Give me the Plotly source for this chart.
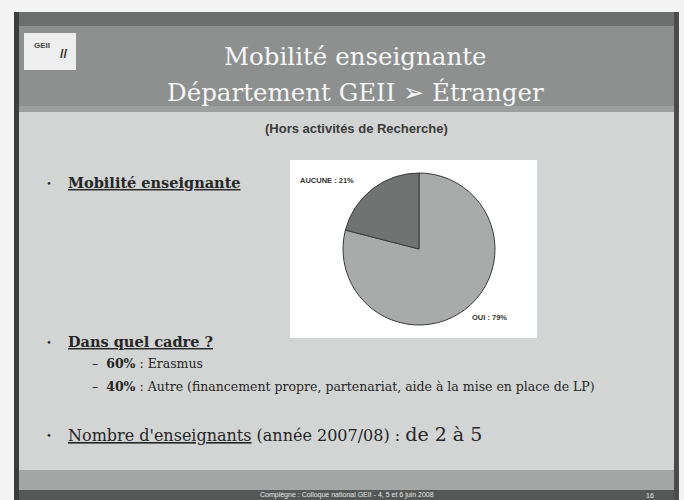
import plotly.graph_objects as go

# ---- data ----
pie_labels = ["OUI", "AUCUNE"]
pie_values = [79, 21]
pie_colors = ["#a9abaa", "#6f7472"]

title_lines = ["Mobilité enseignante", "Département GEII ➢ Étranger"]
subtitle = "(Hors activités de Recherche)"
bullet1 = "Mobilité enseignante"
bullet2 = "Dans quel cadre ?"
sub_items = [("60%", "Erasmus"),
             ("40%", "Autre (financement propre, partenariat, aide à la mise en place de LP)")]
bullet3_u = "Nombre d'enseignants"
bullet3_rest = " (année 2007/08) : "
bullet3_big = "de 2 à 5"
footer = "Compiègne : Colloque national GEII - 4, 5 et 6 juin 2008"
page_no = "16"

W, H = 684, 500


def px(x):
    return x / W


def py(y):
    return 1 - y / H


def rect(x0, y0, x1, y1, color, line=None):
    return dict(type="rect", xref="paper", yref="paper",
                x0=px(x0), x1=px(x1), y0=py(y1), y1=py(y0),
                fillcolor=color, line=dict(width=0) if line is None else line,
                layer="below")


shapes = [
    rect(0, 0, W, H, "#f4f4f4"),
    rect(16, 12, 678, 500, "#d2d5d4"),
    rect(16, 12, 678, 112, "#8d908f"),
    rect(16, 12, 678, 26, "#6c6f6e"),
    rect(16, 106, 678, 112, "#9c9f9e"),
    rect(16, 470, 678, 490, "#a3a6a5"),
    rect(16, 490, 678, 500, "#545756"),
    rect(14, 12, 19, 500, "#3c3e3d"),
    rect(674, 12, 679, 500, "#4a4c4b"),
    rect(24, 33, 76, 70, "#eeeeee"),
    rect(290, 160, 537, 338, "#ffffff"),
]

serif = "DejaVu Serif, Liberation Serif, serif"
sans = "Liberation Sans, Arial, sans-serif"
body_col = "#262626"

annotations = []


def ann(text, x, y, size, color=body_col, family=serif, xanchor="left", yanchor="middle"):
    annotations.append(dict(text=text, x=px(x), y=py(y), xref="paper", yref="paper",
                            showarrow=False, xanchor=xanchor, yanchor=yanchor,
                            font=dict(size=size, color=color, family=family)))


# title
ann(title_lines[0], 355, 57, 24.5, color="#f6f6f6", xanchor="center")
ann(title_lines[1], 355, 93, 24.5, color="#f6f6f6", xanchor="center")
ann("<b>GEII</b>", 42, 46, 8, color="#444444", family=sans, xanchor="center")
ann("<b>//</b>", 64, 54, 13, color="#333333", family=sans, xanchor="center")
ann("<b>" + subtitle + "</b>", 357, 128, 13, color="#3a3a3a", family=sans, xanchor="center")

# bullets
ann("•", 44, 183, 10)
ann("<b><u>" + bullet1 + "</u></b>", 66, 182, 14.5)
ann("•", 44, 342, 10)
ann("<b><u>" + bullet2 + "</u></b>", 66, 341, 14.5)
for i, (pct, txt) in enumerate(sub_items):
    ann("–  <b>" + pct + "</b> : " + txt, 90, 363 + i * 23, 12.5)
ann("•", 44, 435, 10)
ann("<u>" + bullet3_u + "</u>" + bullet3_rest + "<span style='font-size:19px'>" + bullet3_big + "</span>",
    66, 434, 16)

# footer
ann(footer, 347, 495, 7, color="#e8e8e8", family=sans, xanchor="center")
ann(page_no, 650, 495, 7, color="#e8e8e8", family=sans, xanchor="center")

# pie labels, text from data
lab = {l: f"{l} : {v}%" for l, v in zip(pie_labels, pie_values)}
ann("<b>" + lab["AUCUNE"] + "</b>", 298, 180, 7.5, color="#333333", family=sans)
ann("<b>" + lab["OUI"] + "</b>", 470, 317, 7.5, color="#333333", family=sans)

cx, cy, r = 419, 249, 76
fig = go.Figure(go.Pie(
    labels=pie_labels, values=pie_values, sort=False, direction="clockwise", rotation=0,
    marker=dict(colors=pie_colors, line=dict(color="#3a3a3a", width=1)),
    textinfo="none", hoverinfo="label+percent", showlegend=False,
    domain=dict(x=[px(cx - r), px(cx + r)], y=[py(cy + r), py(cy - r)]),
))

fig.update_layout(width=W, height=H, margin=dict(l=0, r=0, t=0, b=0),
                  paper_bgcolor="#f4f4f4", plot_bgcolor="#f4f4f4",
                  shapes=shapes, annotations=annotations)

fig.write_html("out.html", config={"displayModeBar": False},
               post_script="document.body.style.margin='0';document.body.style.overflow='hidden';")
